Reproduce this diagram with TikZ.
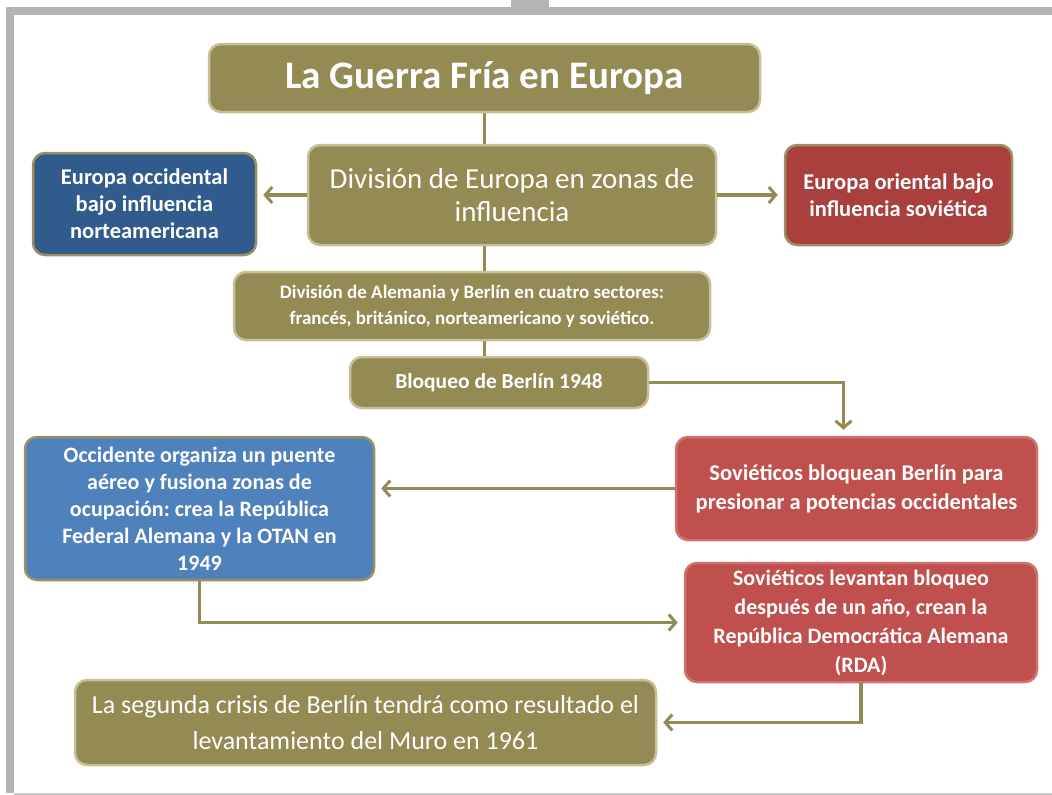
\documentclass[tikz,border=0pt]{standalone}
\usepackage{fontspec}
\setmainfont{Carlito}
\usetikzlibrary{positioning,arrows.meta,backgrounds,calc}
\definecolor{oliveFill}{HTML}{948A54}
\definecolor{oliveRim}{HTML}{C6BF99}
\definecolor{navyFill}{HTML}{315B8C}
\definecolor{steelFill}{HTML}{4F81BD}
\definecolor{brickFill}{HTML}{A9403D}
\definecolor{rubyFill}{HTML}{C0504D}
\definecolor{tanRim}{HTML}{9A9163}
\definecolor{frameGray}{HTML}{B3B3B3}
\frenchspacing

\begin{document}
\begin{tikzpicture}[
  x=1pt, y=-1pt,
  box/.style={draw=oliveRim, line width=2.5pt, rounded corners=12pt,
              fill=oliveFill, text=white, align=center, inner sep=2pt},
  westbox/.style={box, draw=tanRim, fill=navyFill},
  eastbox/.style={box, draw=tanRim, fill=brickFill},
  sovbox/.style={box, draw=rubyFill!80!white, fill=rubyFill},
  occbox/.style={box, draw=tanRim, fill=steelFill},
  flow/.style={-{Straight Barb[length=7pt,width=16pt,line width=3pt]},
               line width=3.5pt, draw=oliveFill, shorten >=6pt},
  link/.style={line width=3.5pt, draw=oliveFill}
]
\useasboundingbox (0,0) rectangle (1052,795);
% frame
\fill[frameGray] (6,7) rectangle (1052,15);
\fill[frameGray] (6,7) rectangle (14,793);
\fill[frameGray] (511,0) rectangle (549,7);
\fill[frameGray!70] (14,793) rectangle (1052,795);
% main column
\node[box, minimum width=551pt, minimum height=68pt,
      font=\fontsize{39}{44}\selectfont\bfseries] (title) at (484.5,78)
  {La Guerra Fría en Europa};
\node[box, minimum width=408pt, minimum height=100pt,
      font=\fontsize{29}{33}\selectfont] (divEur) at (512,195)
  {División de Europa en zonas de\\influencia};
\node[westbox, minimum width=223pt, minimum height=102pt,
      font=\fontsize{22.5}{27}\selectfont\bfseries] (westA) at (144.5,204)
  {Europa occidental\\bajo influencia\\norteamericana};
\node[eastbox, minimum width=227pt, minimum height=100pt,
      font=\fontsize{22.5}{27}\selectfont\bfseries] (eastA) at (898.5,195)
  {Europa oriental bajo\\influencia soviética};
\node[box, minimum width=476pt, minimum height=68pt,
      font=\fontsize{19}{26}\selectfont\bfseries] (germany) at (472,306)
  {División de Alemania y Berlín en cuatro sectores:\\francés, británico, norteamericano y soviético.};
\node[box, minimum width=298pt, minimum height=51pt,
      font=\fontsize{21.5}{25}\selectfont\bfseries] (bloqueo) at (499,382.5)
  {Bloqueo de Berlín 1948};
% blockade branch
\node[sovbox, minimum width=361pt, minimum height=103pt,
      font=\fontsize{22.5}{29}\selectfont\bfseries] (sovBlock) at (856.5,488.5)
  {Soviéticos bloquean Berlín para\\presionar a potencias occidentales};
\node[occbox, minimum width=349pt, minimum height=143pt,
      font=\fontsize{22}{27}\selectfont\bfseries] (occid) at (199.5,508.5)
  {Occidente organiza un puente\\aéreo y fusiona zonas de\\ocupación: crea la República\\Federal Alemana y la OTAN en\\1949};
\node[sovbox, minimum width=352pt, minimum height=119pt,
      font=\fontsize{22}{29}\selectfont\bfseries] (sovLift) at (861,622.5)
  {Soviéticos levantan bloqueo\\después de un año, crean la\\República Democrática Alemana\\(RDA)};
\node[box, minimum width=581pt, minimum height=85pt,
      font=\fontsize{26}{36}\selectfont] (muro) at (365.5,722.5)
  {La segunda crisis de Berlín tendrá como resultado el\\levantamiento del Muro en 1961};
% connectors
\begin{scope}[on background layer]
\draw[link] (title.south) -- (title.south |- bloqueo.north);
\end{scope}
\draw[flow] (divEur.west) -- (divEur.west -| westA.east);
\draw[flow] (divEur.east) -- (divEur.east -| eastA.west);
\draw[flow] (bloqueo.east) -| ([xshift=-13pt]sovBlock.north);
\draw[flow] (sovBlock.west) -- (sovBlock.west -| occid.east);
\draw[flow] (occid.south) |- (sovLift.west);
\draw[flow] (sovLift.south) |- (muro.east);
\end{tikzpicture}
\end{document}
